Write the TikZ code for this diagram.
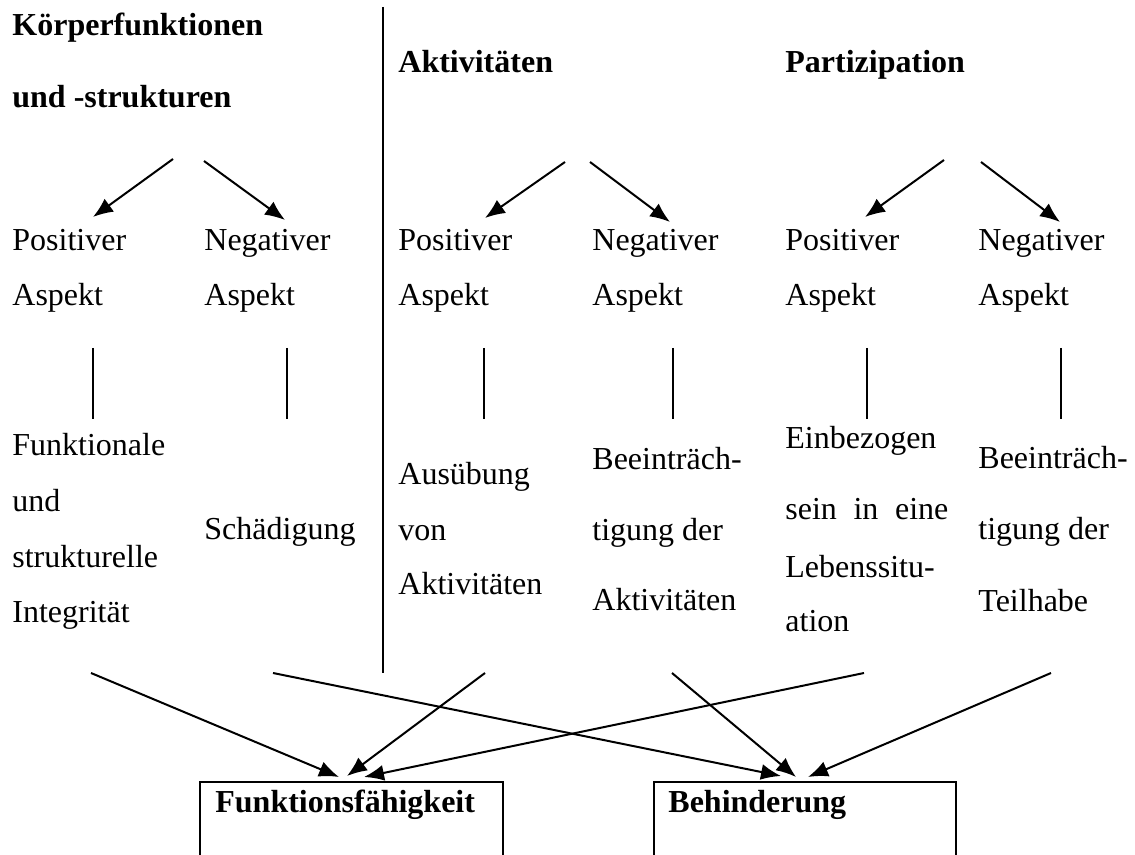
\documentclass[tikz,border=0pt]{standalone}
\usepackage{fontspec}
\setmainfont{Liberation Serif}
\usetikzlibrary{arrows.meta}

\begin{document}
\begin{tikzpicture}
                [x=0.5pt,y=-0.5pt,
                every node/.style={anchor=base west,inner sep=0pt,font=\fontsize{16pt}{19pt}\selectfont},
                kopf/.style={font=\fontsize{16pt}{19pt}\selectfont\bfseries},
                pfeil/.style={-{Latex[length=10pt,width=8pt]},line width=1pt},
                strich/.style={line width=1pt},
                kasten/.style={line width=1pt}]
                \clip (0,0) rectangle (1135,855);
                % Kopfzeile
                \node[kopf] (koerper1) at (12,36) {Körperfunktionen};
                \node[kopf] (koerper2) at (12,108) {und -strukturen};
                \node[kopf] (aktiv) at (398,73) {Aktivitäten};
                \node[kopf] (partiz) at (785,73) {Partizipation};
                \draw[strich] (383,7) coordinate (trenn-o) -- (383,673) coordinate (trenn-u);
                % Aspekte
                \node (pos1) at (12,251) {Positiver};   \node (pos1b) at (12,306) {Aspekt};
                \node (neg1) at (204,251) {Negativer};  \node (neg1b) at (204,306) {Aspekt};
                \node (pos2) at (398,251) {Positiver};  \node (pos2b) at (398,306) {Aspekt};
                \node (neg2) at (592,251) {Negativer};  \node (neg2b) at (592,306) {Aspekt};
                \node (pos3) at (785,251) {Positiver};  \node (pos3b) at (785,306) {Aspekt};
                \node (neg3) at (978,251) {Negativer};  \node (neg3b) at (978,306) {Aspekt};
                % Pfeile oben
                \coordinate (k-a) at (173,159); \coordinate (k-p) at (93,217);
                \coordinate (k-b) at (204,161); \coordinate (k-n) at (285,220);
                \coordinate (a-a) at (565,162); \coordinate (a-p) at (485,218);
                \coordinate (a-b) at (590,162); \coordinate (a-n) at (670,222);
                \coordinate (p-a) at (944,160); \coordinate (p-p) at (865,217);
                \coordinate (p-b) at (981,162); \coordinate (p-n) at (1060,222);
                \draw[pfeil] (k-a) -- (k-p);
                \draw[pfeil] (k-b) -- (k-n);
                \draw[pfeil] (a-a) -- (a-p);
                \draw[pfeil] (a-b) -- (a-n);
                \draw[pfeil] (p-a) -- (p-p);
                \draw[pfeil] (p-b) -- (p-n);
                % senkrechte Striche
                \draw[strich] (93,348) -- (93,419);
                \draw[strich] (287,348) -- (287,419);
                \draw[strich] (484,348) -- (484,419);
                \draw[strich] (673,348) -- (673,419);
                \draw[strich] (867,348) -- (867,419);
                \draw[strich] (1061,348) -- (1061,419);
                % Beschreibungen
                \node (fu1) at (12,456) {Funktionale};
                \node (fu2) at (12,511) {und};
                \node (fu3) at (12,567) {strukturelle};
                \node (fu4) at (12,622) {Integrität};
                \node (schaed) at (204,539) {Schädigung};
                \node (aus1) at (398,485) {Ausübung};
                \node (aus2) at (398,540) {von};
                \node (aus3) at (398,594) {Aktivitäten};
                \node (bea1) at (592,469) {Beeinträch-};
                \node (bea2) at (592,540) {tigung der};
                \node (bea3) at (592,610) {Aktivitäten};
                \node (ein1) at (785,449) {Einbezogen};
                \node (ein2) at (785,519) {\makebox[81.5pt][s]{sein in eine}};
                \node (ein3) at (785,577) {Lebenssitu-};
                \node (ein4) at (785,631) {ation};
                \node (bet1) at (978,468) {Beeinträch-};
                \node (bet2) at (978,539) {tigung der};
                \node (bet3) at (978,611) {Teilhabe};
                % Kaesten unten
                \draw[kasten] (200,870) -- (200,782) coordinate (fkt) -- (503,782) -- (503,870);
                \draw[kasten] (654,870) -- (654,782) coordinate (beh) -- (956,782) -- (956,870);
                \node[kopf] (fkt-t) at (215,812) {Funktionsfähigkeit};
                \node[kopf] (beh-t) at (668,812) {Behinderung};
                % Pfeile unten
                \coordinate (u1) at (91,673);   \coordinate (f1) at (339,777);
                \coordinate (u2) at (273,673);  \coordinate (b2) at (781,776);
                \coordinate (u3) at (485,673);  \coordinate (f3) at (347,776);
                \coordinate (u4) at (672,673);  \coordinate (b4) at (796,777);
                \coordinate (u5) at (864,673);  \coordinate (f5) at (364,777);
                \coordinate (u6) at (1051,673); \coordinate (b6) at (808,777);
                \draw[pfeil] (u1) -- (f1);
                \draw[pfeil] (u2) -- (b2);
                \draw[pfeil] (u3) -- (f3);
                \draw[pfeil] (u4) -- (b4);
                \draw[pfeil] (u5) -- (f5);
                \draw[pfeil] (u6) -- (b6);
            \end{tikzpicture}
\end{document}
